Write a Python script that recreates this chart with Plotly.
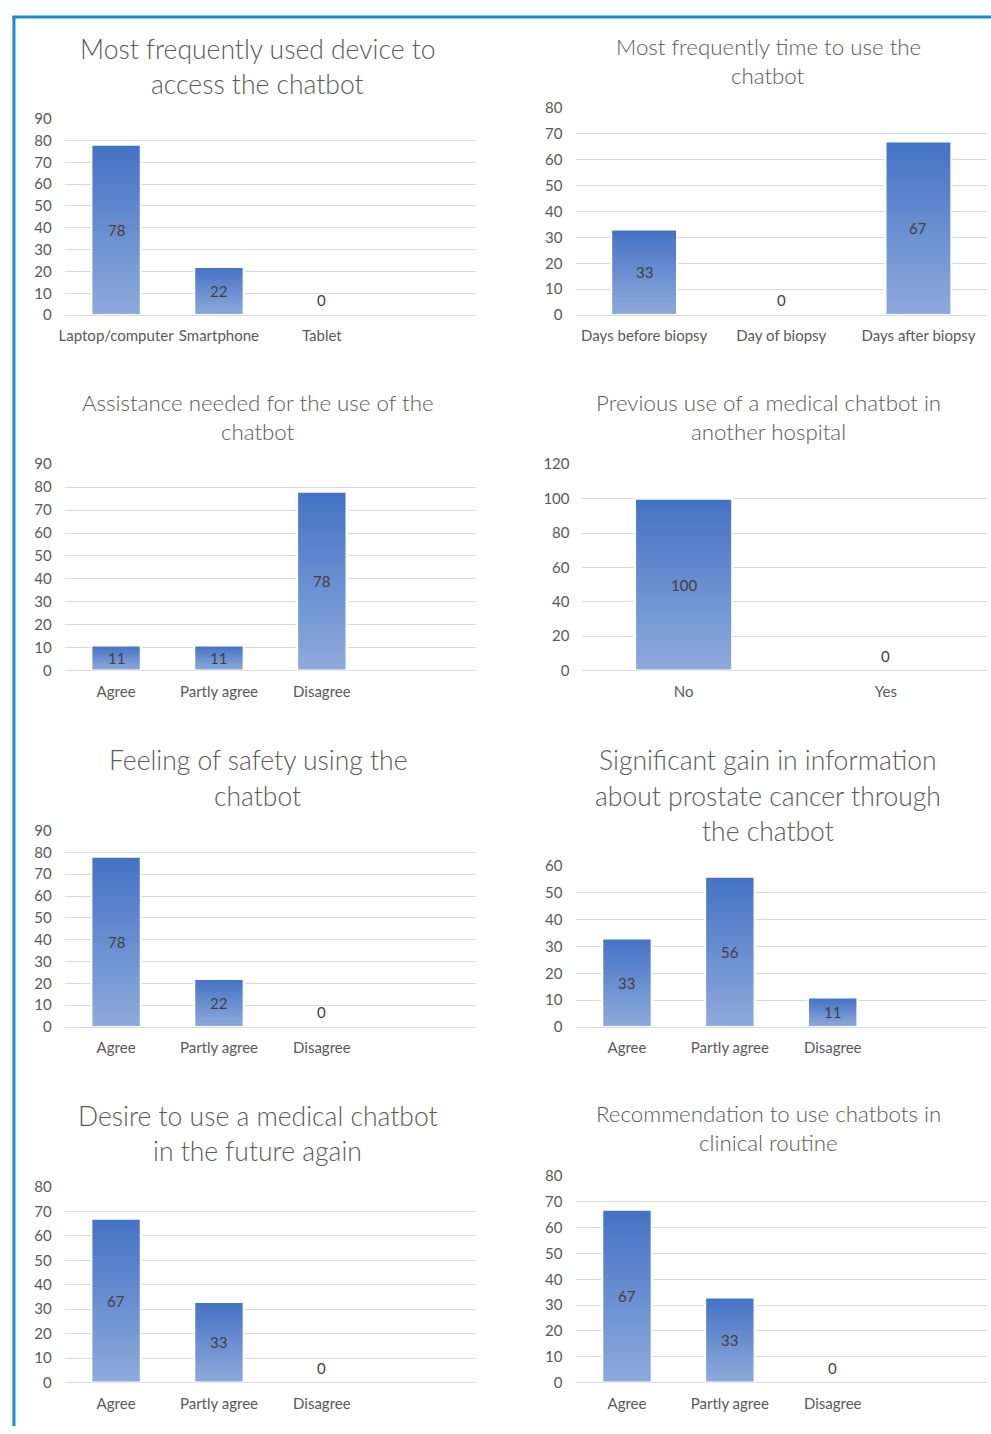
import plotly.graph_objects as go

W, H = 991, 1434

# ---------------- survey results (percent of respondents) ----------------
device_title = ["Most frequently used device to", "access the chatbot"]
device_cats = ["Laptop/computer", "Smartphone", "Tablet"]
device_vals = [78, 22, 0]

time_title = ["Most frequently time to use the", "chatbot"]
time_cats = ["Days before biopsy", "Day of biopsy", "Days after biopsy"]
time_vals = [33, 0, 67]

agree_cats = ["Agree", "Partly agree", "Disagree"]

assist_title = ["Assistance needed for the use of the", "chatbot"]
assist_vals = [11, 11, 78]

previous_title = ["Previous use of a medical chatbot in", "another hospital"]
previous_cats = ["No", "Yes"]
previous_vals = [100, 0]

safety_title = ["Feeling of safety using the", "chatbot"]
safety_vals = [78, 22, 0]

gain_title = ["Significant gain in information", "about prostate cancer through", "the chatbot"]
gain_vals = [33, 56, 11]

future_title = ["Desire to use a medical chatbot", "in the future again"]
future_vals = [67, 33, 0]

recommend_title = ["Recommendation to use chatbots in", "clinical routine"]
recommend_vals = [67, 33, 0]

# ---------------- panel geometry (pixels) ----------------
# left, right, top(max tick), bottom(zero), ymax, dtick, slots, title rows y, title size, title centre x
panels = [
    (device_title, device_cats, device_vals, (59, 473, 110, 309, 90, 10, 4, [39, 75], 26.5, 253.5)),
    (time_title, time_cats, time_vals, (573, 987, 99, 309, 80, 10, 3, [37, 66], 22.3, 767)),
    (assist_title, agree_cats, assist_vals, (59, 473, 460, 669, 90, 10, 4, [397, 427], 22.3, 253.5)),
    (previous_title, previous_cats, previous_vals, (580, 987, 460, 669, 120, 20, 2, [397, 427], 22.3, 767)),
    (safety_title, agree_cats, safety_vals, (59, 473, 831, 1030, 90, 10, 4, [760, 796], 26.5, 253.5)),
    (gain_title, agree_cats, gain_vals, (573, 987, 867, 1030, 60, 10, 4, [760, 796, 831], 26.5, 767)),
    (future_title, agree_cats, future_vals, (59, 473, 1192, 1390, 80, 10, 4, [1120, 1156], 26.5, 253.5)),
    (recommend_title, agree_cats, recommend_vals, (573, 987, 1181, 1390, 80, 10, 4, [1118, 1147], 22.3, 767)),
]

FONT = "Lato"
TICK_SIZE = 15
BAR_W = 0.48
DARK, LIGHT = "#4472C4", "#8FAADC"
GRID = "#D9D9D9"
TXT = "#595959"
LABEL = "#404040"

fig = go.Figure()
annotations = []
layout = {}

for k, (title, cats, vals, geo) in enumerate(panels, start=1):
    left, right, top, bottom, ymax, dtick, slots, title_rows, tsize, tcx = geo
    xa, ya = f"x{k}", f"y{k}"
    xkey = "xaxis" if k == 1 else f"xaxis{k}"
    ykey = "yaxis" if k == 1 else f"yaxis{k}"

    layout[xkey] = dict(
        domain=[left / W, right / W], anchor=ya, range=[-0.5, slots - 0.5],
        tickvals=list(range(len(cats))), ticktext=cats, showgrid=False,
        zeroline=False, showline=False, ticks="", ticklabelstandoff=10,
        tickfont=dict(family=FONT, size=TICK_SIZE, color=TXT), fixedrange=True,
    )
    layout[ykey] = dict(
        domain=[1 - bottom / H, 1 - top / H], anchor=xa, range=[0, ymax],
        dtick=dtick, tick0=0, showgrid=True, gridcolor=GRID, gridwidth=1.3,
        zeroline=True, zerolinecolor=GRID, zerolinewidth=1.3, showline=False,
        ticks="", ticklabelstandoff=12,
        tickfont=dict(family=FONT, size=TICK_SIZE, color=TXT), fixedrange=True,
    )

    for i, v in enumerate(vals):
        if v > 0:
            fig.add_trace(go.Scatter(
                x=[i - BAR_W / 2, i + BAR_W / 2, i + BAR_W / 2, i - BAR_W / 2, i - BAR_W / 2],
                y=[0, 0, v, v, 0],
                xaxis=xa, yaxis=ya, mode="lines", fill="toself",
                fillgradient=dict(type="vertical", colorscale=[[0, LIGHT], [1, DARK]]),
                line=dict(color="white", width=2), hoverinfo="skip", showlegend=False,
            ))
        annotations.append(dict(
            x=i, y=v / 2, xref=xa, yref=ya, text=str(v), showarrow=False,
            yshift=15 if v == 0 else 0,
            font=dict(family=FONT, size=TICK_SIZE, color=LABEL),
        ))

    for row, ty in zip(title, title_rows):
        annotations.append(dict(
            x=tcx / W, y=1 - ty / H, xref="paper", yref="paper", text=row,
            showarrow=False, xanchor="center", yanchor="middle",
            font=dict(family=FONT, size=tsize, color="#5A5A5A", weight=300),
        ))

# frame lines along the left and top edges
BORDER = "#1B8BC9"
shapes = [
    dict(type="line", xref="paper", yref="paper", x0=8 / W, x1=8 / W, y0=0, y1=1 - 6 / H,
         line=dict(color=BORDER, width=3)),
    dict(type="line", xref="paper", yref="paper", x0=6.5 / W, x1=1, y0=1 - 7 / H, y1=1 - 7 / H,
         line=dict(color=BORDER, width=3)),
]

fig.update_layout(
    width=W, height=H, margin=dict(l=0, r=0, t=0, b=0),
    paper_bgcolor="white", plot_bgcolor="white", showlegend=False,
    annotations=annotations, shapes=shapes, **layout,
)

fig.write_html("out.html", config={"displayModeBar": False})
